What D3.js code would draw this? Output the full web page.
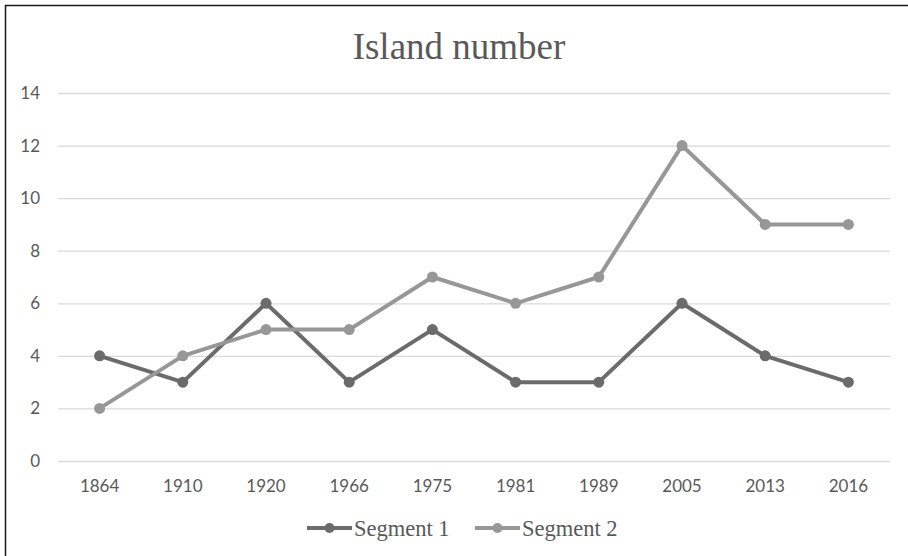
<!DOCTYPE html>
<html>
<head>
<meta charset="utf-8">
<script src="https://cdn.jsdelivr.net/npm/d3@7"></script>
<style>
  html, body { margin: 0; padding: 0; background: #fff; }
  svg { display: block; }
</style>
</head>
<body>
<svg id="chart" width="908" height="556"></svg>
<script>
// Island counts per survey year, two segments
const years = ["1864", "1910", "1920", "1966", "1975", "1981", "1989", "2005", "2013", "2016"];
const segment1 = [4, 3, 6, 3, 5, 3, 3, 6, 4, 3];
const segment2 = [2, 4, 5, 5, 7, 6, 7, 12, 9, 9];
const yTicks = [0, 2, 4, 6, 8, 10, 12, 14];
const seriesNames = ["Segment 1", "Segment 2"];
const seriesColors = ["#6b6b6b", "#979797"];

const svg = d3.select("#chart");
const W = 908, H = 556;
const plot = { left: 58, right: 890, top: 93, bottom: 461 };
const tickFont = "Lato, 'Open Sans', sans-serif";
const serifFont = "'Liberation Serif', 'Times New Roman', serif";

// frame
svg.append("rect").attr("x", 0).attr("y", 0).attr("width", W).attr("height", H).attr("fill", "#fff");
svg.append("path")
  .attr("d", `M5.5,${H} V5.5 H${W}`)
  .attr("fill", "none").attr("stroke", "#1a1a1a").attr("stroke-width", 1.5);

// title
svg.append("text")
  .attr("x", 459).attr("y", 59)
  .attr("text-anchor", "middle")
  .attr("font-family", serifFont)
  .attr("font-size", 37)
  .attr("fill", "#595959")
  .text("Island number");

const x = d3.scaleBand().domain(years).range([plot.left, plot.right]);
const y = d3.scaleLinear().domain([0, 14]).range([plot.bottom, plot.top]);

// gridlines + y labels
const yAxis = d3.axisLeft(y).tickValues(yTicks).tickSize(-(plot.right - plot.left)).tickPadding(18);
const gy = svg.append("g").attr("transform", `translate(${plot.left},0)`).call(yAxis);
gy.select(".domain").remove();
gy.selectAll(".tick line").attr("stroke", "#d9d9d9").attr("stroke-width", 1.3);
gy.selectAll(".tick text")
  .attr("font-family", tickFont)
  .attr("font-size", 17).attr("fill", "#595959");

// x labels
const xAxis = d3.axisBottom(x).tickSize(0).tickPadding(19);
const gx = svg.append("g").attr("transform", `translate(0,${plot.bottom})`).call(xAxis);
gx.select(".domain").remove();
gx.selectAll(".tick text")
  .attr("font-family", tickFont)
  .attr("font-size", 17).attr("fill", "#595959");

const cx = d => x(d) + x.bandwidth() / 2;
const line = d3.line().x((d, i) => cx(years[i])).y(d => y(d));

[segment1, segment2].forEach((vals, si) => {
  const g = svg.append("g");
  g.append("path").datum(vals)
    .attr("d", line)
    .attr("fill", "none")
    .attr("stroke", seriesColors[si])
    .attr("stroke-width", 4)
    .attr("stroke-linejoin", "round");
  g.selectAll("circle").data(vals).join("circle")
    .attr("cx", (d, i) => cx(years[i]))
    .attr("cy", d => y(d))
    .attr("r", 5.5)
    .attr("fill", seriesColors[si]);
});

// legend
const legendItems = [{ x: 307 }, { x: 475 }];
legendItems.forEach((it, i) => {
  const g = svg.append("g").attr("transform", `translate(${it.x},528)`);
  g.append("line").attr("x1", 0).attr("x2", 45).attr("y1", 0).attr("y2", 0)
    .attr("stroke", seriesColors[i]).attr("stroke-width", 4);
  g.append("circle").attr("cx", 22.5).attr("cy", 0).attr("r", 5).attr("fill", seriesColors[i]);
  g.append("text").attr("x", 47).attr("y", 8)
    .attr("font-family", serifFont)
    .attr("font-size", 22.5).attr("fill", "#595959")
    .text(seriesNames[i]);
});
</script>
</body>
</html>
